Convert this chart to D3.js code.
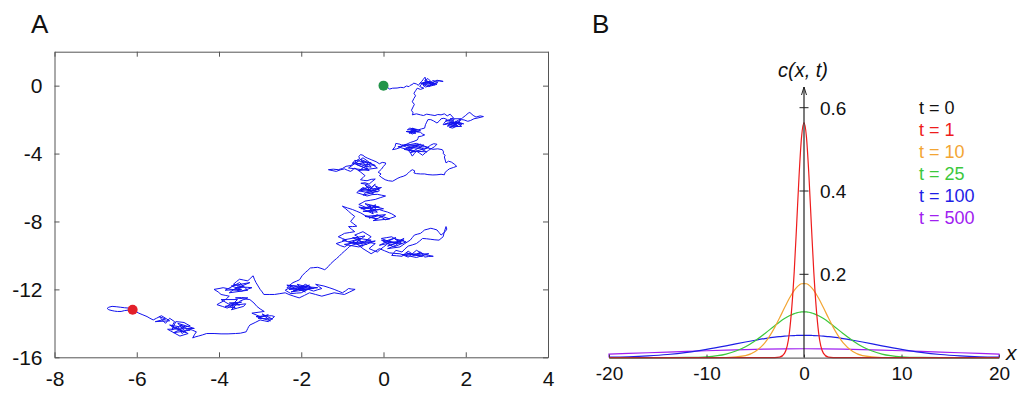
<!DOCTYPE html>
<html>
<head>
<meta charset="utf-8">
<script src="https://cdn.jsdelivr.net/npm/d3@7"></script>
<style>
  body { margin: 0; background: #fff; }
  svg { display: block; font-family: "Liberation Sans", Arial, sans-serif; }
</style>
</head>
<body>
<div id="chart"></div>
<script>
// ---- panel A: random walk (x, y)
const walk = [
  [0,0],[0.08,-0.08],[0.15,-0.2],[0.22,-0.15],[0.33,-0.14],[0.42,-0.1],[0.49,-0.12],[0.56,-0.02],[0.62,-0.06],[0.65,0.02],
  [0.71,0.08],[0.73,0.15],[0.8,0.1],[0.85,0.02],[0.89,0.16],[0.93,0.25],[0.97,0.38],[1.01,0.5],[1.03,0.3],[1.08,0.22],
  [1.0,0.12],[1.07,0.05],[1.15,0.18],[1.2,0.3],[1.28,0.25],[1.36,0.28],[1.45,0.25],
  [1.3,0.32],[1.12,0.1],[1.25,0.05],[1.05,0.28],[0.95,0.12],[1.18,0.2],[1.3,0.08],[1.1,-0.05],[1.22,0.15],[1.0,0.3],
  [1.08,0.42],[1.15,0.25],[0.9,0.15],[1.05,-0.02],
  [1.32,0.18],[1.2,0.12],[1.12,0.22],
  [1.04,0.1],[0.96,0.02],[1.02,-0.08],[1.12,-0.02],[1.18,0.06],[1.1,0.14],[1.0,0.2],[0.92,0.08],[0.88,-0.05],[0.98,-0.15],
  [0.9,-0.22],[0.82,-0.15],[0.78,-0.3],[0.74,-0.45],[0.78,-0.6],[0.74,-0.75],[0.7,-0.95],[0.75,-1.1],[0.72,-1.25],[0.68,-1.45],
  [0.72,-1.6],[0.7,-1.72],[0.8,-1.66],[0.9,-1.72],[0.97,-1.76],[1.05,-1.68],[1.15,-1.72],[1.25,-1.76],[1.32,-1.7],[1.4,-1.72],
  [1.48,-1.66],[1.55,-1.78],[1.62,-1.68],[1.7,-1.9],[1.6,-2.0],[1.5,-2.1],
  [1.72,-2.0],[1.58,-2.3],[1.85,-2.15],[1.65,-2.42],[1.9,-2.4],[1.75,-2.1],[1.95,-2.25],[1.6,-2.15],[1.8,-2.35],[1.55,-2.38],
  [1.7,-2.2],[1.88,-1.95],[1.62,-1.95],[1.78,-2.28],[1.5,-2.25],
  [1.58,-2.22],[1.65,-2.3],[1.72,-2.15],[1.8,-2.2],
  [1.7,-2.35],[1.6,-2.45],[1.68,-2.5],[1.75,-2.42],[1.82,-2.3],[1.9,-2.3],[1.84,-2.15],[1.85,-2.05],[1.92,-1.9],[2.0,-1.75],
  [2.06,-1.62],[2.1,-1.58],[2.18,-1.75],[2.25,-1.85],[2.35,-1.78],[2.43,-1.82],[2.3,-1.9],[2.2,-1.95],[2.12,-2.05],[2.05,-2.1],
  [1.96,-2.02],[1.9,-2.0],[1.82,-2.12],[1.75,-2.25],[1.66,-2.12],[1.58,-2.15],[1.52,-2.28],[1.45,-2.3],[1.5,-2.12],[1.55,-2.0],
  [1.47,-1.92],[1.4,-1.95],[1.35,-2.1],[1.3,-2.2],[1.22,-2.08],[1.15,-2.0],[1.08,-2.0],[1.05,-2.15],[1.02,-2.3],[1.0,-2.5],
  [0.92,-2.55],[0.85,-2.6],[0.75,-2.66],[0.65,-2.7],[0.72,-2.55],[0.64,-2.5],[0.58,-2.6],
  [0.8,-2.58],[0.62,-2.8],[0.9,-2.65],[0.7,-2.5],[0.78,-2.82],[0.55,-2.7],[0.85,-2.72],[0.68,-2.62],
  [0.63,-2.75],[0.7,-2.85],[0.8,-2.7],
  [0.9,-2.75],[0.95,-2.85],[1.0,-2.9],[0.92,-2.98],[0.85,-3.0],[0.84,-3.1],[0.82,-3.2],[0.74,-3.28],[0.65,-3.35],[0.56,-3.45],
  [0.48,-3.55],[0.4,-3.45],[0.3,-3.4],[0.28,-3.6],[0.22,-3.77],[0.32,-3.72],[0.4,-3.65],[0.48,-3.52],[0.55,-3.45],[0.62,-3.58],
  [0.9,-3.45],[0.5,-3.75],[0.78,-3.9],[0.45,-3.5],[0.98,-3.5],[0.65,-3.95],[1.1,-3.65],[0.8,-3.4],[0.35,-3.6],[0.7,-3.85],
  [1.05,-3.9],[0.88,-3.7],[0.58,-3.62],
  [0.7,-3.7],[0.78,-3.6],[0.85,-3.55],[0.92,-3.68],[1.0,-3.75],[1.08,-3.62],[1.15,-3.5],[1.22,-3.42],[1.3,-3.45],[1.24,-3.6],
  [1.1,-3.8],[1.02,-3.95],[0.95,-4.1],[0.88,-3.98],[0.8,-3.85],[0.75,-4.0],[0.7,-4.15],[0.66,-3.98],[0.6,-3.8],[0.68,-3.7],
  [0.75,-3.6],[0.88,-3.62],[1.0,-3.6],[1.1,-3.68],[1.2,-3.75],[1.32,-3.72],[1.43,-3.77],[1.46,-3.9],[1.45,-4.0],[1.5,-4.1],
  [1.48,-4.2],[1.5,-4.38],[1.52,-4.55],[1.58,-4.45],[1.65,-4.5],[1.72,-4.62],[1.78,-4.75],[1.7,-4.82],[1.6,-4.9],[1.55,-5.0],
  [1.5,-5.1],[1.48,-5.25],[1.4,-5.22],[1.3,-5.25],[1.2,-5.26],[1.08,-5.24],[1.0,-5.2],[0.9,-5.2],[0.8,-5.18],[0.74,-5.14],
  [0.76,-5.02],[0.7,-4.95],[0.64,-5.05],[0.6,-5.15],[0.55,-5.26],[0.48,-5.34],[0.42,-5.38],[0.35,-5.45],[0.28,-5.55],[0.22,-5.63],
  [0.12,-5.6],[0.04,-5.54],[-0.04,-5.42],[-0.1,-5.3],[-0.06,-5.2],[-0.13,-5.1],[-0.05,-4.92],[0.0,-4.75],[0.05,-4.62],[0.05,-4.55],
  [-0.03,-4.52],[-0.1,-4.6],[-0.18,-4.48],[-0.3,-4.36],[-0.38,-4.28],[-0.45,-4.2],[-0.5,-4.1],[-0.56,-4.06],[-0.6,-4.18],[-0.58,-4.3],
  [-0.65,-4.4],[-0.7,-4.5],[-0.6,-4.6],[-0.5,-4.7],[-0.4,-4.76],[-0.3,-4.8],[-0.36,-4.62],[-0.45,-4.5],[-0.55,-4.56],[-0.65,-4.65],
  [-0.4,-4.9],[-0.75,-4.55],[-0.2,-4.7],[-0.55,-4.35],[-0.35,-5.0],[-0.85,-4.85],[-0.5,-4.25],[-0.15,-4.85],[-0.6,-5.0],[-0.3,-4.55],
  [-0.7,-4.4],
  [-0.78,-4.7],[-0.91,-4.75],[-1.0,-4.88],[-1.1,-4.95],[-1.22,-4.92],[-1.34,-4.95],[-1.25,-5.0],[-1.15,-5.05],[-1.05,-4.96],[-0.95,-4.9],
  [-0.88,-4.98],[-0.8,-5.05],[-0.74,-4.95],[-0.7,-4.85],[-0.62,-4.98],[-0.55,-5.1],[-0.5,-5.2],[-0.45,-5.3],[-0.5,-5.42],[-0.56,-5.54],
  [-0.48,-5.58],[-0.4,-5.6],[-0.3,-5.52],[-0.2,-5.5],[-0.28,-5.65],[-0.35,-5.8],[-0.45,-5.72],[-0.55,-5.75],[-0.4,-5.82],[-0.3,-5.95],
  [-0.55,-6.1],[-0.15,-6.25],[-0.45,-5.85],[-0.25,-6.35],[-0.6,-6.2],[-0.05,-6.0],[-0.4,-6.3],[-0.2,-5.8],[-0.5,-6.45],[-0.1,-6.2],
  [-0.2,-5.9],[-0.12,-6.0],[-0.1,-6.1],[-0.2,-6.15],[-0.3,-6.2],[-0.4,-6.1],[-0.5,-6.0],[-0.58,-6.15],[-0.65,-6.3],[-0.52,-6.4],
  [-0.4,-6.5],[-0.28,-6.42],[-0.15,-6.4],[-0.05,-6.45],[0.05,-6.5],[-0.08,-6.6],[-0.2,-6.7],[-0.32,-6.75],[-0.45,-6.8],[-0.52,-6.9],
  [-0.6,-7.0],[-0.5,-7.1],[-0.4,-7.2],[-0.3,-7.1],
  [-0.55,-7.25],[-0.1,-7.15],[-0.45,-6.95],[-0.15,-7.45],[-0.5,-7.4],[0.0,-7.25],[-0.35,-7.05],[-0.25,-7.55],[-0.6,-7.15],[-0.2,-7.3],
  [-0.2,-7.0],[-0.28,-7.2],[-0.35,-7.4],[-0.22,-7.35],[-0.1,-7.3],[0.0,-7.38],
  [0.1,-7.45],[0.2,-7.55],[0.3,-7.7],[0.18,-7.8],[0.05,-7.9],[-0.05,-7.75],[-0.15,-7.6],[-0.25,-7.7],[-0.35,-7.8],
  [-0.1,-7.65],[0.15,-7.85],[-0.25,-7.95],[0.05,-7.6],[-0.45,-7.7],[-0.15,-7.85],
  [-0.45,-7.65],
  [-0.55,-7.5],[-0.65,-7.4],[-0.75,-7.3],[-0.88,-7.2],[-1.0,-7.1],[-0.92,-7.25],[-0.85,-7.4],[-0.78,-7.55],[-0.7,-7.7],[-0.75,-7.85],
  [-0.8,-8.0],[-0.72,-8.15],[-0.65,-8.28],[-0.75,-8.3],[-0.85,-8.3],[-0.78,-8.45],[-0.7,-8.6],[-0.82,-8.65],[-0.95,-8.7],[-1.02,-8.8],
  [-1.1,-8.9],[-1.0,-9.0],[-0.9,-9.1],[-1.02,-9.2],[-1.15,-9.3],[-1.05,-9.42],[-0.95,-9.5],[-0.85,-9.35],[-0.75,-9.2],[-0.65,-9.1],
  [-0.55,-9.0],
  [-0.85,-9.2],[-0.4,-9.35],[-0.75,-8.95],[-0.3,-9.1],[-0.95,-9.35],[-0.6,-9.5],[-0.2,-9.15],[-0.7,-9.3],[-0.45,-8.85],[-1.0,-9.1],
  [-0.5,-9.45],
  [-0.62,-8.9],[-0.7,-8.8],[-0.6,-8.7],[-0.5,-8.6],[-0.4,-8.75],[-0.3,-8.9],[-0.38,-9.05],[-0.45,-9.2],[-0.32,-9.25],
  [-0.2,-9.3],[-0.28,-9.45],[-0.35,-9.6],[-0.25,-9.7],[-0.15,-9.8],[-0.08,-9.65],[0.0,-9.5],[0.08,-9.35],[0.15,-9.2],[0.05,-9.1],
  [-0.05,-9.0],[0.08,-8.95],[0.2,-8.9],
  [0.45,-9.3],[0.0,-9.2],[0.3,-8.95],[-0.1,-9.4],[0.5,-9.1],[0.1,-9.45],[0.35,-9.25],[-0.05,-9.1],[0.25,-9.5],[0.55,-9.2],
  [0.28,-9.02],[0.35,-9.15],[0.42,-9.08],[0.5,-9.0],[0.4,-9.2],[0.3,-9.4],[0.2,-9.5],
  [0.1,-9.6],[0.25,-9.55],[0.4,-9.5],[0.52,-9.3],[0.65,-9.1],[0.7,-8.95],[0.75,-8.8],[0.82,-8.75],[0.9,-8.7],[0.95,-8.6],
  [1.0,-8.5],[1.08,-8.45],[1.15,-8.4],[1.22,-8.44],[1.3,-8.5],[1.35,-8.65],[1.4,-8.8],[1.45,-8.7],[1.5,-8.6],[1.54,-8.45],
  [1.52,-8.3],[1.48,-8.6],[1.45,-8.9],[1.4,-9.0],[1.35,-9.1],[1.25,-9.08],[1.15,-9.05],[1.05,-9.02],[0.95,-9.0],[0.88,-9.15],
  [0.8,-9.3],[0.7,-9.38],[0.6,-9.45],[0.52,-9.62],[0.45,-9.8],[0.38,-9.75],[0.3,-9.7],[0.25,-9.85],[0.2,-10.0],[0.32,-10.02],
  [0.45,-10.05],[0.52,-9.9],[0.6,-9.75],[0.68,-9.88],[0.75,-10.0],
  [0.55,-9.85],[0.95,-10.05],[0.65,-9.95],[1.1,-9.9],[0.8,-10.12],[0.45,-9.95],[0.9,-9.9],
  [0.82,-9.9],[0.9,-9.8],[0.95,-9.95],[1.0,-10.1],[1.1,-10.06],
  [1.21,-10.05],[1.1,-10.0],[1.0,-9.95],[0.9,-9.82],[0.8,-9.7],[0.7,-9.9],[0.6,-10.1],[0.5,-10.0],[0.4,-9.9],[0.28,-9.88],
  [0.15,-9.85],[0.02,-9.72],[-0.1,-9.6],[-0.2,-9.75],[-0.3,-9.9],[-0.4,-9.75],[-0.5,-9.6],[-0.58,-9.45],[-0.65,-9.3],[-0.74,-9.38],
  [-0.82,-9.46],[-0.88,-9.6],[-0.95,-9.75],[-1.02,-9.9],[-1.08,-10.05],[-1.14,-10.18],[-1.2,-10.3],[-1.28,-10.48],[-1.34,-10.64],[-1.38,-10.75],
  [-1.43,-10.84],[-1.52,-10.76],[-1.6,-10.7],[-1.7,-10.72],[-1.78,-10.74],[-1.84,-10.88],[-1.9,-11.0],[-1.98,-11.2],[-2.04,-11.43],[-2.12,-11.52],
  [-2.2,-11.6],[-2.28,-11.75],[-2.35,-11.9],[-2.22,-11.95],[-2.1,-12.0],[-2.0,-11.85],[-1.9,-11.7],[-1.82,-11.8],[-1.75,-11.9],[-1.88,-12.05],
  [-2.0,-12.2],[-2.12,-12.22],[-2.25,-12.25],[-2.32,-12.15],[-2.39,-12.05],[-2.3,-11.92],[-2.2,-11.8],[-2.08,-11.85],[-1.95,-11.9],
  [-2.2,-12.1],[-1.8,-11.75],[-2.3,-12.0],[-1.7,-11.95],[-2.1,-11.7],[-1.9,-12.15],[-2.35,-11.75],[-1.6,-11.9],[-2.05,-12.05],[-1.85,-11.85],
  [-2.25,-12.15],
  [-1.82,-12.0],[-1.7,-12.1],[-1.6,-12.02],[-1.5,-11.95],[-1.58,-11.82],[-1.65,-11.7],[-1.55,-11.75],[-1.45,-11.8],[-1.32,-11.9],[-1.2,-12.0],
  [-1.1,-12.1],[-1.0,-12.2],[-0.92,-12.08],[-0.85,-11.95],[-0.77,-11.98],[-0.69,-12.0],[-0.82,-12.15],[-0.95,-12.3],[-1.08,-12.25],[-1.2,-12.2],
  [-1.35,-12.3],[-1.5,-12.4],[-1.65,-12.3],[-1.8,-12.2],[-1.92,-12.35],[-2.05,-12.5],[-2.18,-12.4],[-2.3,-12.3],[-2.39,-12.2],[-2.52,-12.25],
  [-2.65,-12.3],[-2.78,-12.3],[-2.91,-12.3],[-2.95,-12.15],[-3.0,-12.0],[-3.05,-11.8],[-3.1,-11.6],[-3.14,-11.4],[-3.17,-11.2],[-3.24,-11.35],
  [-3.3,-11.5],[-3.4,-11.45],[-3.5,-11.4],[-3.58,-11.55],[-3.65,-11.7],[-3.52,-11.78],[-3.4,-11.85],
  [-3.6,-11.95],[-3.25,-11.6],[-3.7,-11.8],[-3.45,-12.0],[-3.85,-12.05],[-3.5,-11.6],[-3.3,-12.05],[-3.75,-12.2],[-3.55,-11.85],
  [-3.3,-11.88],[-3.2,-11.9],[-3.32,-12.0],[-3.45,-12.1],[-3.58,-12.05],[-3.7,-12.0],[-3.8,-11.95],[-3.9,-11.9],[-4.0,-11.95],[-4.12,-12.0],
  [-4.02,-12.15],[-3.95,-12.3],[-3.85,-12.35],[-3.75,-12.4],[-3.82,-12.55],[-3.9,-12.7],[-3.98,-12.8],[-4.05,-12.9],[-3.92,-13.0],[-3.8,-13.1],
  [-3.7,-12.98],[-3.6,-12.85],[-3.5,-12.92],
  [-3.75,-12.8],[-3.45,-12.75],[-3.85,-13.0],[-3.6,-13.1],[-3.95,-12.6],[-3.55,-12.6],[-3.7,-12.95],[-3.35,-12.85],
  [-3.4,-13.0],[-3.55,-13.1],[-3.7,-13.2],[-3.6,-12.95],[-3.5,-12.7],[-3.4,-12.6],[-3.3,-12.5],[-3.45,-12.48],[-3.6,-12.5],[-3.42,-12.55],
  [-3.25,-12.6],[-3.15,-12.8],[-3.08,-13.0],[-3.0,-13.15],[-2.9,-13.3],[-3.05,-13.35],[-3.2,-13.4],[-3.1,-13.5],[-3.0,-13.6],[-2.9,-13.55],
  [-2.8,-13.5],
  [-3.05,-13.7],[-2.7,-13.75],[-2.95,-13.45],[-2.75,-13.85],[-3.1,-13.6],
  [-2.72,-13.55],[-2.65,-13.6],[-2.72,-13.75],[-2.8,-13.9],[-2.9,-13.85],[-3.0,-13.8],[-3.12,-13.95],[-3.25,-14.1],[-3.28,-14.2],[-3.3,-14.3],
  [-3.32,-14.4],[-3.34,-14.5],[-3.48,-14.58],[-3.6,-14.6],[-3.78,-14.62],[-3.95,-14.62],[-4.12,-14.6],[-4.3,-14.6],[-4.4,-14.68],[-4.5,-14.75],
  [-4.58,-14.8],[-4.64,-14.86],[-4.6,-14.68],[-4.55,-14.5],[-4.65,-14.4],[-4.75,-14.3],[-4.82,-14.45],[-4.9,-14.6],[-4.95,-14.4],[-5.0,-14.2],
  [-5.08,-14.3],[-5.15,-14.4],[-5.1,-14.15],[-5.05,-13.9],[-4.95,-13.92],[-4.85,-13.95],[-4.78,-14.05],[-4.7,-14.15],[-4.82,-14.2],[-4.95,-14.1],
  [-4.7,-14.4],[-5.1,-14.55],[-4.85,-14.25],[-5.2,-14.1],[-4.75,-14.6],[-4.95,-14.75],[-5.25,-14.35],[-4.6,-14.3],[-5.0,-14.0],[-4.8,-14.55],
  [-5.15,-14.2],
  [-5.08,-13.9],[-5.2,-13.7],[-5.25,-13.85],[-5.3,-14.0],[-5.38,-13.8],[-5.45,-13.6],
  [-5.3,-13.75],[-5.55,-13.9],[-5.2,-13.85],[-5.4,-13.55],
  [-5.52,-13.7],[-5.6,-13.8],[-5.68,-13.7],[-5.75,-13.6],
  [-5.85,-13.5],[-5.95,-13.4],[-6.02,-13.3],[-6.1,-13.2],[-6.2,-13.22],[-6.3,-13.25],[-6.38,-13.3],[-6.47,-13.3],[-6.54,-13.28],[-6.6,-13.25],
  [-6.68,-13.2],[-6.72,-13.12],[-6.68,-13.05],[-6.6,-13.0],[-6.5,-13.02],[-6.4,-13.05],[-6.3,-13.08],[-6.2,-13.1],[-6.1,-13.15],[-6.05,-13.2]
];
const walkStart = [0, 0];
const walkEnd = [-6.1, -13.2];
const xTicksA = [-8, -6, -4, -2, 0, 2, 4];
const yTicksA = [-16, -12, -8, -4, 0];

// ---- panel B: concentration profiles c(x, t)
const xs = [-20,-18,-16,-14,-12,-10,-8,-6,-5,-4,-3,-2.5,-2,-1.5,-1,-0.75,-0.5,-0.25,0,
            0.25,0.5,0.75,1,1.5,2,2.5,3,4,5,6,8,10,12,14,16,18,20];
const c1 = [0,0,0,0,0,0,0,0,0,0,0.0001,0.0011,0.0103,0.0595,0.2076,0.321,0.439,0.530,0.564,
            0.530,0.439,0.321,0.2076,0.0595,0.0103,0.0011,0.0001,0,0,0,0,0,0,0,0,0,0];
const c10 = [0,0,0,0,0,0,0.0003,0.0049,0.0146,0.036,0.0725,0.0955,0.1196,0.1425,0.1614,0.1687,0.174,0.1773,0.1775,
             0.1773,0.174,0.1687,0.1614,0.1425,0.1196,0.0955,0.0725,0.036,0.0146,0.0049,0.0003,0,0,0,0,0,0];
const c25 = [0,0,0,0,0.0004,0.002,0.0085,0.026,0.0405,0.058,0.0767,0.0857,0.0937,0.1005,0.1057,0.1075,0.1089,0.1097,0.110,
             0.1097,0.1089,0.1075,0.1057,0.1005,0.0937,0.0857,0.0767,0.058,0.0405,0.026,0.0085,0.002,0.0004,0,0,0,0];
const c100 = [0.001,0.0021,0.0042,0.0075,0.0127,0.0198,0.0282,0.0374,0.0417,0.0457,0.049,0.0503,0.0515,0.0524,0.053,0.0532,0.0534,0.0535,0.0536,
              0.0535,0.0534,0.0532,0.053,0.0524,0.0515,0.0503,0.049,0.0457,0.0417,0.0374,0.0282,0.0198,0.0127,0.0075,0.0042,0.0021,0.001];
const x500 = [-20,-20,-18,-16,-14,-12,-10,-8,-6,-4,-2,0,2,4,6,8,10,12,14,16,18,20,20];
const c500 = [0,0.0085,0.01,0.0116,0.0132,0.0148,0.0164,0.0178,0.0193,0.0203,0.021,0.0213,0.021,0.0203,0.0193,0.0178,0.0164,0.0148,0.0132,0.0116,0.01,0.0085,0];
const legendLabels = ["t = 0", "t = 1", "t = 10", "t = 25", "t = 100", "t = 500"];
const legendColors = ["#111111", "#ee1c1c", "#f3a533", "#3cc83c", "#1e1ee6", "#a020f0"];
const xTicksB = [-20, -10, 0, 10, 20];
const yTicksB = [0.2, 0.4, 0.6];

const svg = d3.select("#chart").append("svg")
  .attr("width", 1025).attr("height", 393);

// ================= panel A =================
const xA = d3.scaleLinear().domain([-8, 4]).range([54.5, 548]);
const yA = d3.scaleLinear().domain([-16, 2]).range([357.3, 51.7]);

svg.append("text").text("A").attr("x", 31).attr("y", 33)
  .attr("font-size", 26).attr("fill", "#111");

const gA = svg.append("g");
const axisStyle = (g, labels) => {
  g.select(".domain").attr("stroke", "#555");
  g.selectAll(".tick line").attr("stroke", "#555");
  g.selectAll("text").attr("font-size", 21).attr("fill", "#111")
    .attr("font-family", "Liberation Sans, Arial, sans-serif");
  if (!labels) g.selectAll("text").remove();
};

gA.append("g").attr("transform", `translate(0,${yA(-16)})`)
  .call(d3.axisBottom(xA).tickValues(xTicksA).tickSize(-5).tickSizeOuter(0).tickPadding(14).tickFormat(d3.format("d")))
  .call(g => axisStyle(g, true));
gA.append("g").attr("transform", `translate(0,${yA(2)})`)
  .call(d3.axisTop(xA).tickValues(xTicksA).tickSize(-5).tickSizeOuter(0))
  .call(g => axisStyle(g, false));
gA.append("g").attr("transform", `translate(${xA(-8)},0)`)
  .call(d3.axisLeft(yA).tickValues(yTicksA).tickSize(-5).tickSizeOuter(0).tickPadding(12).tickFormat(d3.format("d")))
  .call(g => axisStyle(g, true));
gA.append("g").attr("transform", `translate(${xA(4)},0)`)
  .call(d3.axisRight(yA).tickValues(yTicksA).tickSize(-5).tickSizeOuter(0))
  .call(g => axisStyle(g, false));
gA.selectAll("text").each(function () {
  // d3 uses a unicode minus; the figure uses a plain hyphen
  d3.select(this).text(d3.select(this).text().replace("\u2212", "-"));
});

gA.append("path").datum(walk)
  .attr("fill", "none").attr("stroke", "#1212ee").attr("stroke-width", 1)
  .attr("stroke-linejoin", "round")
  .attr("d", d3.line().x(d => xA(d[0])).y(d => yA(d[1])));

gA.append("circle").attr("cx", xA(walkEnd[0])).attr("cy", yA(walkEnd[1]))
  .attr("r", 5).attr("fill", "#e3202a");
gA.append("circle").attr("cx", xA(walkStart[0])).attr("cy", yA(walkStart[1]))
  .attr("r", 5).attr("fill", "#23944a");

// ================= panel B =================
const xB = d3.scaleLinear().domain([-20, 20]).range([609, 999]);
const yB = d3.scaleLinear().domain([0, 0.6]).range([357.6, 107.7]);

svg.append("text").text("B").attr("x", 592).attr("y", 33)
  .attr("font-size", 26).attr("fill", "#111");

const gB = svg.append("g");

const curve = d3.line().x(d => xB(d[0])).y(d => yB(d[1])).curve(d3.curveMonotoneX);
const series = [
  { vals: c100, color: legendColors[4] },
  { vals: c25, color: legendColors[3] },
  { vals: c10, color: legendColors[2] },
  { vals: c1, color: legendColors[1] }
];
gB.append("path").datum(x500.map((x, i) => [x, c500[i]]))
  .attr("fill", "none").attr("stroke", legendColors[5]).attr("stroke-width", 1.2)
  .attr("d", d3.line().x(d => xB(d[0])).y(d => yB(d[1])));
series.forEach(s => {
  gB.append("path").datum(xs.map((x, i) => [x, s.vals[i]]))
    .attr("fill", "none").attr("stroke", s.color).attr("stroke-width", 1.2)
    .attr("d", curve);
});

// x axis
gB.append("g").attr("transform", `translate(0,${yB(0)})`)
  .call(d3.axisBottom(xB).tickValues(xTicksB).tickSize(-3).tickSizeOuter(0).tickPadding(9).tickFormat(d3.format("d")))
  .call(g => {
    g.select(".domain").attr("stroke", "#444");
    g.selectAll(".tick line").attr("stroke", "#444");
    g.selectAll("text").attr("font-size", 19).attr("fill", "#111")
      .attr("font-family", "Liberation Sans, Arial, sans-serif")
      .text(function () { return d3.select(this).text().replace("\u2212", "-"); });
  });

// y axis with arrow (t = 0 spike sits on it)
const x0 = xB(0);
gB.append("line").attr("x1", x0).attr("x2", x0).attr("y1", yB(0)).attr("y2", 87)
  .attr("stroke", "#222").attr("stroke-width", 1.2);
gB.append("path").attr("d", `M${x0 - 2.5},${95} L${x0},${87} L${x0 + 2.5},${95}`)
  .attr("fill", "none").attr("stroke", "#222").attr("stroke-width", 1);
gB.selectAll(".ytick").data(yTicksB).enter().append("line")
  .attr("x1", x0 - 4.5).attr("x2", x0 + 4.5)
  .attr("y1", d => yB(d)).attr("y2", d => yB(d))
  .attr("stroke", "#222");
gB.selectAll(".ylab").data(yTicksB).enter().append("text")
  .attr("x", 820).attr("y", d => yB(d)).attr("dy", "0.36em")
  .attr("font-size", 19).attr("fill", "#111")
  .text(d => d3.format(".1f")(d));

svg.append("text").text("c(x, t)").attr("x", x0 - 1).attr("y", 77)
  .attr("text-anchor", "middle").attr("font-size", 20).attr("font-style", "italic").attr("fill", "#111");
svg.append("text").text("x").attr("x", 1006).attr("y", 360)
  .attr("font-size", 21).attr("font-style", "italic").attr("fill", "#111");

// legend
gB.selectAll(".leg").data(legendLabels).enter().append("text")
  .attr("x", 919).attr("y", (d, i) => 107.7 + i * 22).attr("dy", "0.36em")
  .attr("font-size", 18).attr("fill", (d, i) => legendColors[i])
  .text(d => d);
</script>
</body>
</html>
